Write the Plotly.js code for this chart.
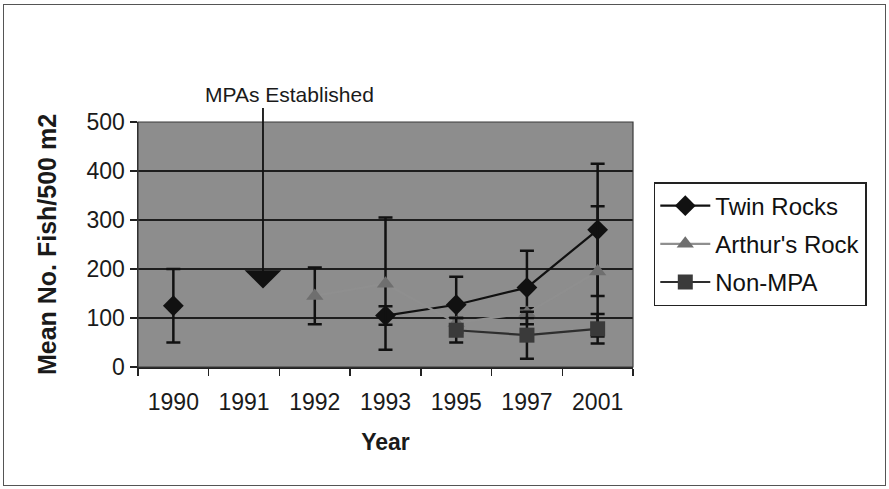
<!DOCTYPE html>
<html>
<head>
<meta charset="utf-8">
<script src="https://cdn.plot.ly/plotly-3.0.1.min.js"></script>
<style>
  html, body { margin: 0; padding: 0; background: #ffffff; }
  #wrap { position: relative; width: 889px; height: 489px; }
  #chart { position: absolute; left: 0; top: 0; width: 889px; height: 489px; }
  #frame { position: absolute; left: 3px; top: 4px; width: 881px; height: 480px;
           border: 1.5px solid #555; pointer-events: none; }
</style>
</head>
<body>
<div id="wrap">
  <div id="chart"></div>
  <div id="frame"></div>
</div>
<script>
// ---- data ----
const years = ['1990', '1991', '1992', '1993', '1995', '1997', '2001'];

const twinRocks    = [125, null, null, 105, 127, 162, 280];
const twinRocksErr = [75,  null, null, 19,  57,  75,  135];

const arthursRock    = [null, null, 145, 170, 90, 110, 195];
const arthursRockErr = [null, null, 58,  135, 10, 10,  133];

const nonMPA    = [null, null, null, null, 75, 65, 78];
const nonMPAErr = [null, null, null, null, 25, 48, 30];

const mpaLabel = 'MPAs Established';
const mpaArrowValue = 160;

const FONT = 'Liberation Sans, Arial, sans-serif';

function series(name, y, err, lineColor, markerColor, symbol, size, group) {
  return {
    type: 'scatter', mode: 'lines+markers', name: name,
    x: years, y: y, legendgroup: group,
    line: { color: lineColor, width: 2.2 },
    marker: { color: markerColor, symbol: symbol, size: size, line: { width: 0 } },
    error_y: { type: 'data', array: err, visible: true, color: '#111', thickness: 2.5, width: 7 },
    connectgaps: false,
    cliponaxis: false
  };
}

const traces = [
  series('Twin Rocks', twinRocks, twinRocksErr, '#111111', '#111111', 'diamond', 16, 'a'),
  series("Arthur's Rock", arthursRock, arthursRockErr, '#8f8f8f', '#6f6f6f', 'triangle-up', 15, 'b'),
  series('Non-MPA', nonMPA, nonMPAErr, '#2e2e2e', '#3a3a3a', 'square', 15, 'c')
];

const layout = {
  width: 889, height: 489,
  margin: { l: 138, r: 256, t: 122, b: 122 },
  paper_bgcolor: '#ffffff',
  plot_bgcolor: '#8d8d8d',
  font: { family: FONT, size: 23, color: '#1a1a1a' },
  showlegend: true,
  legend: {
    x: 1.042, xanchor: 'left', y: 0.755, yanchor: 'top',
    bordercolor: '#222', borderwidth: 1.5, bgcolor: '#ffffff',
    font: { family: FONT, size: 24, color: '#111' },
    traceorder: 'grouped', tracegroupgap: 4,
    itemwidth: 50
  },
  xaxis: {
    type: 'category', categoryorder: 'array', categoryarray: years,
    range: [-0.5, 6.5],
    tickson: 'boundaries', ticks: 'outside', ticklen: 7, tickcolor: '#222', tickwidth: 1.5,
    ticklabelstandoff: 14,
    showline: true, linecolor: '#222', linewidth: 1.5,
    showgrid: false, zeroline: false,
    tickfont: { family: FONT, size: 23, color: '#1a1a1a' },
    title: { text: 'Year', font: { family: FONT, size: 23, color: '#1a1a1a', weight: 'bold' }, standoff: 20 }
  },
  yaxis: {
    range: [0, 500], dtick: 100, tick0: 0,
    ticks: 'outside', ticklen: 7, tickcolor: '#222', tickwidth: 1.5,
    showline: true, linecolor: '#222', linewidth: 1.5,
    showgrid: true, gridcolor: '#1e1e1e', gridwidth: 1.2,
    zeroline: false,
    tickfont: { family: FONT, size: 23, color: '#1a1a1a' },
    title: { text: 'Mean No. Fish/500 m2', font: { family: FONT, size: 25, color: '#1a1a1a', weight: 'bold' }, standoff: 23 }
  },
  shapes: [
    { type: 'rect', xref: 'paper', yref: 'paper', x0: 0, x1: 1, y0: 0, y1: 1,
      line: { color: '#3a3a3a', width: 1.2 }, fillcolor: 'rgba(0,0,0,0)', layer: 'above' }
  ],
  annotations: [
    { xref: 'paper', yref: 'paper', x: 0.307, y: 1.113, xanchor: 'center', yanchor: 'middle',
      text: mpaLabel, showarrow: false,
      font: { family: 'Liberation Sans Narrow, Arial Narrow, ' + FONT, size: 21, color: '#1a1a1a' } },
    { xref: 'paper', yref: 'y', x: 0.2525, y: mpaArrowValue, text: '',
      showarrow: true, arrowhead: 1, arrowsize: 3.4, arrowwidth: 1.8, arrowcolor: '#111',
      ax: 0, ay: -182, standoff: 0 }
  ]
};

Plotly.newPlot('chart', traces, layout, { displayModeBar: false, staticPlot: true });
</script>
</body>
</html>
